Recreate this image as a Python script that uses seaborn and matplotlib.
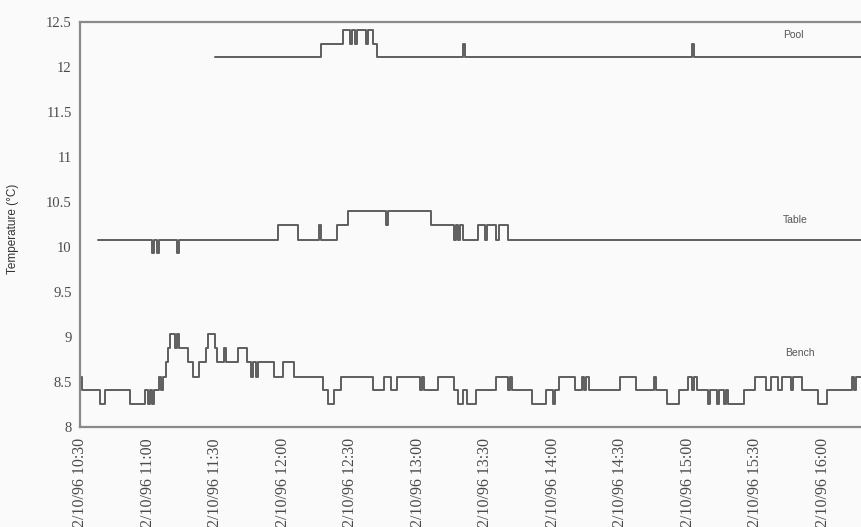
import matplotlib
matplotlib.use("Agg")
import matplotlib.pyplot as plt
import seaborn as sns
import pandas as pd

# logged temperatures, 2 Oct 1996 (change points of a stepped record)
pool_times = ["11:30", "12:17", "12:27", "12:30", "12:31", "12:32", "12:33", "12:37",
              "12:38", "12:40", "12:42", "13:20", "13:21", "15:02", "15:03", "16:18"]
pool_temps = [12.11, 12.26, 12.41, 12.26, 12.41, 12.26, 12.41, 12.26,
              12.41, 12.26, 12.11, 12.26, 12.11, 12.26, 12.11, 12.11]

table_times = ["10:38", "11:02", "11:03", "11:04", "11:05", "11:13", "11:14", "11:58",
               "12:07", "12:16", "12:17", "12:24", "12:29", "12:46", "12:47", "13:06",
               "13:16", "13:17", "13:18", "13:19", "13:20", "13:27", "13:30", "13:31",
               "13:35", "13:36", "13:40", "16:18"]
table_temps = [10.08, 9.93, 10.08, 9.93, 10.08, 9.93, 10.08, 10.24,
               10.08, 10.24, 10.08, 10.24, 10.40, 10.24, 10.40, 10.24,
               10.08, 10.24, 10.08, 10.24, 10.08, 10.24, 10.08, 10.24,
               10.08, 10.24, 10.08, 10.08]

bench_times = ["10:30", "10:31", "10:39", "10:41", "10:52", "10:59", "11:00", "11:01",
               "11:02", "11:03", "11:05", "11:06", "11:07", "11:08", "11:09", "11:10",
               "11:12", "11:13", "11:14", "11:18", "11:20", "11:23", "11:26", "11:27",
               "11:30", "11:31", "11:34", "11:35", "11:40", "11:44", "11:46", "11:47",
               "11:48", "11:49", "11:56", "12:00", "12:05", "12:18", "12:20", "12:23",
               "12:26", "12:40", "12:45", "12:48", "12:51", "13:01", "13:02", "13:03",
               "13:09", "13:16", "13:18", "13:20", "13:22", "13:26", "13:35", "13:40",
               "13:41", "13:42", "13:51", "13:57", "14:00", "14:01", "14:03", "14:10",
               "14:13", "14:14", "14:15", "14:16", "14:30", "14:37", "14:45", "14:46",
               "14:51", "14:56", "15:00", "15:02", "15:03", "15:04", "15:09", "15:10",
               "15:13", "15:14", "15:16", "15:17", "15:18", "15:25", "15:30", "15:35",
               "15:37", "15:40", "15:42", "15:46", "15:47", "15:51", "15:58", "16:02",
               "16:13", "16:14", "16:15", "16:18"]
bench_temps = [8.56, 8.41, 8.26, 8.41, 8.26, 8.41, 8.26, 8.41,
               8.26, 8.41, 8.56, 8.41, 8.56, 8.72, 8.88, 9.03,
               8.88, 9.03, 8.88, 8.72, 8.56, 8.72, 8.88, 9.03,
               8.88, 8.72, 8.88, 8.72, 8.88, 8.72, 8.56, 8.72,
               8.56, 8.72, 8.56, 8.72, 8.56, 8.41, 8.26, 8.41,
               8.56, 8.41, 8.56, 8.41, 8.56, 8.41, 8.56, 8.41,
               8.56, 8.41, 8.26, 8.41, 8.26, 8.41, 8.56, 8.41,
               8.56, 8.41, 8.26, 8.41, 8.26, 8.41, 8.56, 8.41,
               8.56, 8.41, 8.56, 8.41, 8.56, 8.41, 8.56, 8.41,
               8.26, 8.41, 8.56, 8.41, 8.56, 8.41, 8.26, 8.41,
               8.26, 8.41, 8.26, 8.41, 8.26, 8.41, 8.56, 8.41,
               8.56, 8.41, 8.56, 8.41, 8.56, 8.41, 8.26, 8.41,
               8.56, 8.41, 8.56, 8.56]

tick_times = ["10:30", "11:00", "11:30", "12:00", "12:30", "13:00",
              "13:30", "14:00", "14:30", "15:00", "15:30", "16:00"]
tick_labels = ["2/10/96 " + t for t in tick_times]
y_ticks = [8, 8.5, 9, 9.5, 10, 10.5, 11, 11.5, 12, 12.5]
y_tick_labels = ["8", "8.5", "9", "9.5", "10", "10.5", "11", "11.5", "12", "12.5"]

series_labels = {"Pool": ("15:47", 12.36), "Table": ("15:48", 10.30), "Bench": ("15:50", 8.82)}

day = "1996-10-02 "


def frame(name, times, temps):
    return pd.DataFrame({"time": pd.to_datetime([day + t for t in times]),
                         "temp": temps, "site": name})


df = pd.concat([frame("Pool", pool_times, pool_temps),
                frame("Table", table_times, table_temps),
                frame("Bench", bench_times, bench_temps)], ignore_index=True)

sns.set_style("white")
plt.rcParams["font.family"] = ["Liberation Serif", "DejaVu Serif"]

fig = plt.figure(figsize=(8.61, 5.27), dpi=100, facecolor="#fafafa")
ax = fig.add_axes([80 / 861, 100 / 527, 781 / 861, 405 / 527])
ax.set_facecolor("#fafafa")

sns.lineplot(data=df, x="time", y="temp", hue="site", units="site", estimator=None,
             palette=["#5e5e5e"] * 3, drawstyle="steps-post", linewidth=1.4,
             legend=False, ax=ax)

start = pd.Timestamp(day + "10:30")
ax.set_xlim(start, start + pd.Timedelta(minutes=347.1))
ax.set_ylim(8, 12.5)

ax.set_xticks(pd.to_datetime([day + t for t in tick_times]))
ax.set_xticklabels(tick_labels, rotation=90, fontsize=11.5, color="#4a4a4a")
ax.set_yticks(y_ticks)
ax.set_yticklabels(y_tick_labels, fontsize=10.5, color="#4a4a4a")
ax.tick_params(axis="x", direction="inout", length=4, width=0.8, color="#999999", pad=6)
ax.tick_params(axis="y", direction="out", length=3, width=0.8, color="#999999", pad=3)

ax.set_xlabel("")
ax.set_ylabel("Temperature (°C)", family="Liberation Sans", fontsize=8.5,
              color="#333333")
ax.yaxis.set_label_coords(-0.078, 0.49)

for side in ["left", "bottom", "top"]:
    ax.spines[side].set_color("#8a8a8a")
    ax.spines[side].set_linewidth(1.6)
ax.spines["right"].set_visible(False)

for name, (t, v) in series_labels.items():
    ax.text(pd.Timestamp(day + t), v, name, ha="center", va="center",
            family="Liberation Sans", fontsize=7.5, color="#555555")

fig.savefig("out.png", dpi=100, facecolor=fig.get_facecolor())
